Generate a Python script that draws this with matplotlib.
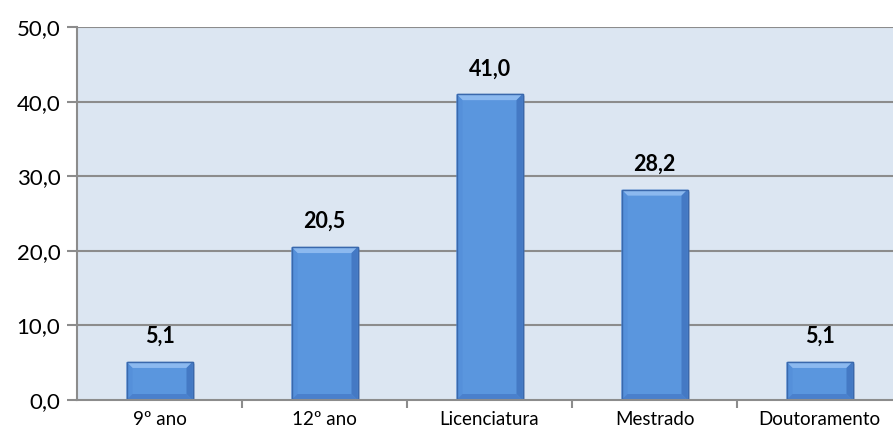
import matplotlib
matplotlib.use("Agg")
import matplotlib.pyplot as plt
from matplotlib.patches import Polygon

categories = ["9º ano", "12º ano", "Licenciatura", "Mestrado", "Doutoramento"]
values = [5.1, 20.5, 41.0, 28.2, 5.1]
yticks = [0, 10, 20, 30, 40, 50]

plt.rcParams["font.family"] = ["Lato", "DejaVu Sans"]

W, H = 893, 434
fig = plt.figure(figsize=(W / 100, H / 100), dpi=100)
ax = fig.add_axes([77 / W, 34 / H, 825 / W, 373 / H])
ax.set_facecolor("#DCE6F2")

ax.set_xlim(-0.5, len(categories) - 0.5)
ax.set_ylim(0, 50)

# grid
for t in yticks[1:]:
    ax.axhline(t, color="#8C8C8C", lw=1.5, zorder=1)

bar_w = 0.4
face = "#5A96DE"
# bevel sizes in data units (approx 6 px)
dx = 6 / 165
dy = 6 / 7.46

for i, v in enumerate(values):
    x0, x1 = i - bar_w / 2, i + bar_w / 2
    # soft shadow
    ax.add_patch(Polygon([(x0 + 0.01, 0), (x1 + 0.015, 0), (x1 + 0.015, v - 0.3), (x0 + 0.01, v - 0.3)],
                         closed=True, facecolor="#7F8A99", alpha=0.25, lw=0, zorder=2))
    ax.bar(i, v, width=bar_w, color=face, edgecolor="#3C6DB3", linewidth=1.0, zorder=3)
    d_y = min(dy, v / 3)
    # top bevel (lighter)
    ax.add_patch(Polygon([(x0, v), (x1, v), (x1 - dx, v - d_y), (x0 + dx, v - d_y)],
                         closed=True, facecolor="#8CB9EF", lw=0, zorder=4))
    # left bevel
    ax.add_patch(Polygon([(x0, v), (x0 + dx, v - d_y), (x0 + dx, d_y), (x0, 0)],
                         closed=True, facecolor="#5590DA", lw=0, zorder=4))
    # right bevel
    ax.add_patch(Polygon([(x1, v), (x1 - dx, v - d_y), (x1 - dx, d_y), (x1, 0)],
                         closed=True, facecolor="#4479C4", lw=0, zorder=4))
    # bottom bevel
    ax.add_patch(Polygon([(x0, 0), (x1, 0), (x1 - dx, d_y), (x0 + dx, d_y)],
                         closed=True, facecolor="#4A80CC", lw=0, zorder=4))
    # outline
    ax.add_patch(Polygon([(x0, 0), (x0, v), (x1, v), (x1, 0)], closed=True,
                         facecolor="none", edgecolor="#3A68AC", lw=1.0, zorder=5))
    ax.text(i, v + 2.0, f"{v:.1f}".replace(".", ","), ha="center", va="bottom",
            fontsize=15.5, fontweight="bold", color="#000000", zorder=6)

ax.set_yticks(yticks)
ax.set_yticklabels([f"{t:.1f}".replace(".", ",") for t in yticks], fontsize=16)
ax.set_xticks(range(len(categories)))
ax.set_xticklabels(categories, fontsize=13.5)
ax.tick_params(axis="x", which="major", length=0, pad=8)
ax.set_xticks([i + 0.5 for i in range(len(categories))], minor=True)
ax.tick_params(axis="x", which="minor", length=6, width=1.5, color="#8C8C8C")
ax.tick_params(axis="y", length=7, width=1.5, color="#8C8C8C", pad=5)

for s in ["top", "right"]:
    ax.spines[s].set_visible(False)
for s in ["left", "bottom"]:
    ax.spines[s].set_color("#8C8C8C")
    ax.spines[s].set_linewidth(1.5)
    ax.spines[s].set_zorder(7)

fig.savefig("out.png", dpi=100)
